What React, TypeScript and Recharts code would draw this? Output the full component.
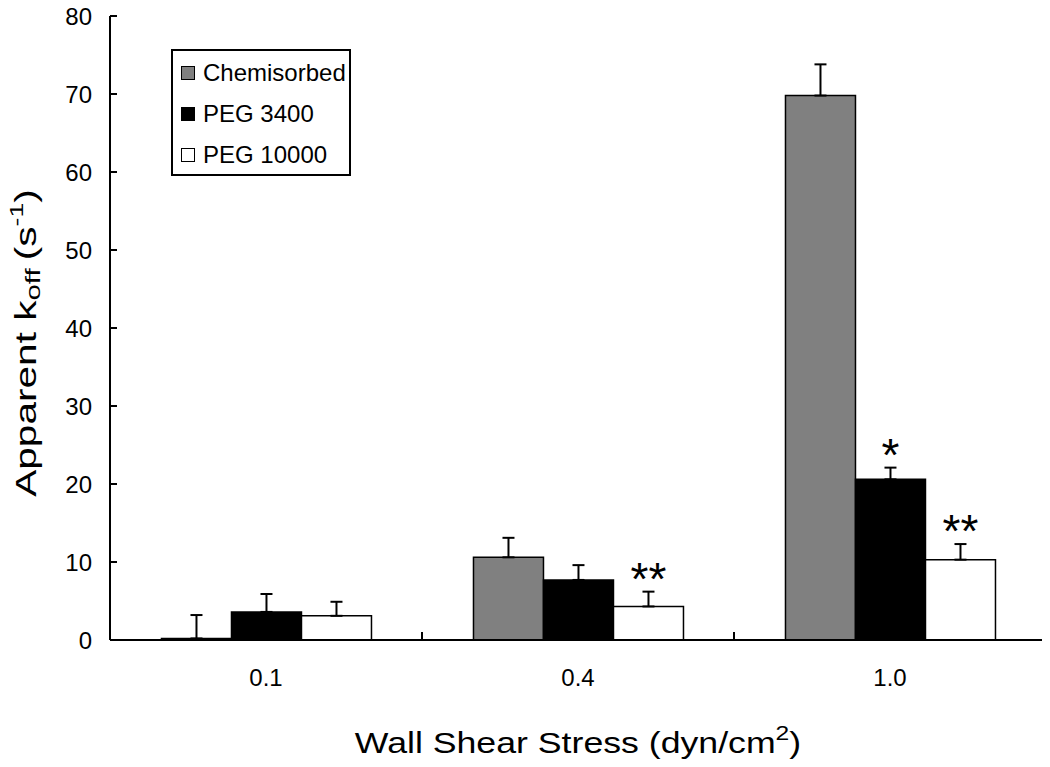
import React from 'react';
import { ComposedChart, Bar, XAxis, YAxis, ErrorBar, LabelList, Legend, Label } from 'recharts';

const categories = ['0.1', '0.4', '1.0'];
const chemisorbed = [0.2, 10.6, 69.8];
const chemisorbedErr = [3.0, 2.5, 4.0];
const peg3400 = [3.6, 7.7, 20.6];
const peg3400Err = [2.3, 1.9, 1.5];
const peg10000 = [3.1, 4.3, 10.3];
const peg10000Err = [1.8, 1.9, 2.0];
const peg3400Sig = ['', '', '*'];
const peg10000Sig = ['', '**', '**'];
const yTicks = [0, 10, 20, 30, 40, 50, 60, 70, 80];

const FONT = '"Liberation Sans", Arial, Helvetica, sans-serif';

const seriesDefs = [
  { key: 'chem', name: 'Chemisorbed', values: chemisorbed, errs: chemisorbedErr, sig: null as string[] | null, fill: '#808080' },
  { key: 'p3400', name: 'PEG 3400', values: peg3400, errs: peg3400Err, sig: peg3400Sig, fill: '#000000' },
  { key: 'p10000', name: 'PEG 10000', values: peg10000, errs: peg10000Err, sig: peg10000Sig, fill: '#ffffff' },
];

const data = categories.map((c, i) => {
  const row: any = { cat: c };
  seriesDefs.forEach((s) => {
    row[s.key] = s.values[i];
    row[s.key + 'Err'] = [0, s.errs[i]];
    row[s.key + 'Sig'] = s.sig ? s.sig[i] : '';
  });
  return row;
});

const YTick = (props: any) => {
  const { x, y, payload } = props;
  return (
    <g>
      <line x1={x} y1={y} x2={x + 7} y2={y} stroke="#000" strokeWidth={2} />
      <text x={x - 18} y={y} textAnchor="end" dominantBaseline="central" fontSize={24} fontFamily={FONT} fill="#000">
        {payload.value}
      </text>
    </g>
  );
};

const XTick = (props: any) => {
  const { x, y, payload, index } = props;
  const off = payload && typeof payload.offset === 'number' ? payload.offset : 0;
  return (
    <g>
      {index < categories.length - 1 && off > 0 ? (
        <line x1={x + off} y1={y} x2={x + off} y2={y - 8} stroke="#000" strokeWidth={2} />
      ) : null}
      <text x={x} y={y + 37} textAnchor="middle" dominantBaseline="central" fontSize={24} fontFamily={FONT} fill="#000">
        {payload.value}
      </text>
    </g>
  );
};

const makeSigLabel = (values: number[], errs: number[]) => (props: any) => {
  const { x, y, width, height, value, index } = props;
  if (!value) return null;
  const v = values[index];
  const pxPerUnit = v > 0 ? Math.abs(height) / v : 0;
  const errTop = y - errs[index] * pxPerUnit;
  return (
    <text x={x + width / 2} y={errTop + 3} textAnchor="middle" fontSize={46} fontFamily={FONT} fill="#000">
      {value}
    </text>
  );
};

const LegendBox = () => (
  <div
    style={{
      width: 180,
      height: 127,
      border: '2px solid #000',
      boxSizing: 'border-box',
      background: '#fff',
      fontFamily: FONT,
      fontSize: 24,
      color: '#000',
      paddingTop: 1,
      paddingLeft: 8,
    }}
  >
    {seriesDefs.map((s) => (
      <div key={s.key} style={{ display: 'flex', alignItems: 'center', height: 41, lineHeight: '24px', whiteSpace: 'nowrap' }}>
        <span
          style={{
            display: 'inline-block',
            width: 14,
            height: 14,
            background: s.fill,
            border: '1.5px solid #000',
            boxSizing: 'border-box',
            marginRight: 8,
          }}
        />
        <span>{s.name}</span>
      </div>
    ))}
  </div>
);

const YTitle = (props: any) => {
  const vb = props.viewBox || { x: 0, y: 0, width: 0, height: 0 };
  const bx = vb.x + 36;
  const cy = vb.y + vb.height / 2 + 15;
  return (
    <text
      x={0}
      y={0}
      transform={`translate(${bx}, ${cy}) rotate(-90) scale(1.4, 1)`}
      textAnchor="middle"
      fontSize={29}
      fontFamily={FONT}
      fill="#000"
    >
      Apparent k
      <tspan fontSize={21} dy={4}>off</tspan>
      <tspan dy={-4}>{'\u2009(s'}</tspan>
      <tspan fontSize={19} dy={-13}>-1</tspan>
      <tspan dy={13}>)</tspan>
    </text>
  );
};

const XTitle = (props: any) => {
  const vb = props.viewBox || { x: 0, y: 0, width: 0, height: 0 };
  const cx = vb.x + vb.width / 2;
  const by = vb.y + 113;
  return (
    <text
      x={0}
      y={0}
      transform={`translate(${cx}, ${by}) scale(1.23, 1)`}
      textAnchor="middle"
      fontSize={29}
      fontFamily={FONT}
      fill="#000"
    >
      Wall Shear Stress (dyn/cm
      <tspan fontSize={20} dy={-13}>2</tspan>
      <tspan dy={13}>)</tspan>
    </text>
  );
};

export default function App() {
  return (
    <div style={{ width: 1050, height: 767, margin: '-8px 0 0 -8px', background: '#fff' }}>
      <ComposedChart
        width={1050}
        height={767}
        data={data}
        margin={{ top: 16, right: 4, bottom: 0, left: 0 }}
        barCategoryGap="16.5%"
        barGap={0}
      >
        <XAxis
          dataKey="cat"
          type="category"
          height={127}
          axisLine={{ stroke: '#000', strokeWidth: 2 }}
          tickLine={false}
          tickSize={0}
          tickMargin={0}
          tick={<XTick />}
          interval={0}
        >
          <Label content={<XTitle />} />
        </XAxis>
        <YAxis
          type="number"
          domain={[0, 80]}
          ticks={yTicks}
          width={110}
          axisLine={{ stroke: '#000', strokeWidth: 2 }}
          tickLine={false}
          tickSize={0}
          tickMargin={0}
          tick={<YTick />}
          interval={0}
        >
          <Label content={<YTitle />} />
        </YAxis>
        <Legend
          layout="vertical"
          align="center"
          verticalAlign="middle"
          content={<LegendBox />}
          wrapperStyle={{ position: 'absolute', left: 171, top: 49, width: 180, height: 127 }}
        />
        {seriesDefs.map((s) => (
          <Bar
            key={s.key}
            dataKey={s.key}
            name={s.name}
            fill={s.fill}
            stroke="#000"
            strokeWidth={1.5}
            isAnimationActive={false}
          >
            <ErrorBar dataKey={s.key + 'Err'} width={6} stroke="#000" strokeWidth={2} direction="y" isAnimationActive={false} />
            {s.sig ? (
              <LabelList dataKey={s.key + 'Sig'} content={makeSigLabel(s.values, s.errs)} />
            ) : null}
          </Bar>
        ))}
      </ComposedChart>
    </div>
  );
}
